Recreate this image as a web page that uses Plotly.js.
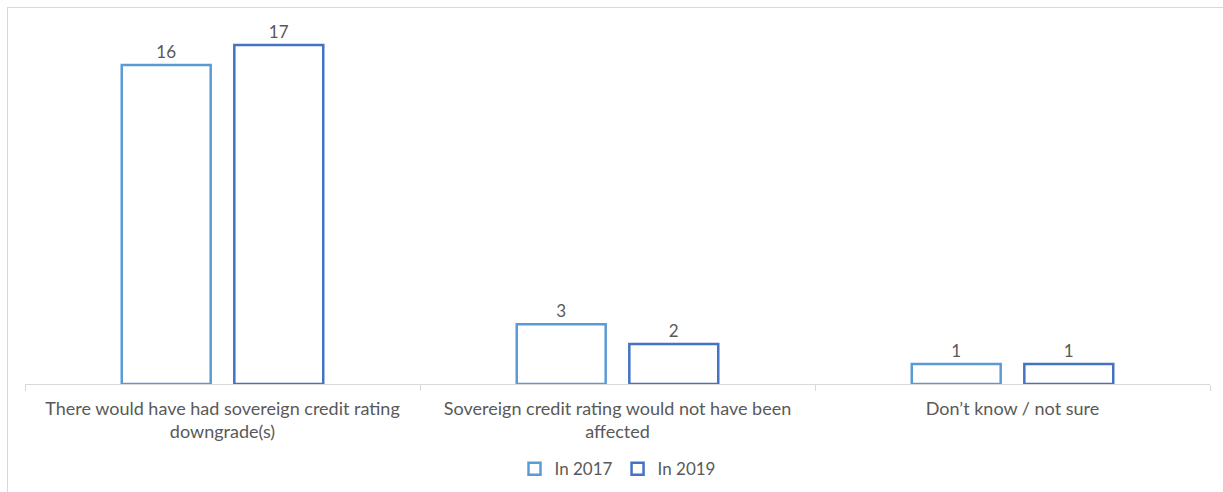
<!DOCTYPE html>
<html>
<head>
<meta charset="utf-8">
<script src="https://cdn.plot.ly/plotly-3.0.1.min.js"></script>
<style>
html,body{margin:0;padding:0;background:#fff;}
#frame{position:absolute;left:7px;top:7px;width:1216px;height:485px;border-left:1px solid #d9d9d9;border-top:1px solid #d9d9d9;box-sizing:border-box;}
#chart{position:absolute;left:0;top:0;width:1223px;height:492px;}
</style>
</head>
<body>
<div id="frame"></div>
<div id="chart"></div>
<script>
const categories = [
  "There would have had sovereign credit rating<br>downgrade(s)",
  "Sovereign credit rating would not have been<br>affected",
  "Don’t know / not sure"
];
const seriesNames = ["In 2017", "In 2019"];
const values2017 = [16, 3, 1];
const values2019 = [17, 2, 1];

const fontFam = "Lato, 'Open Sans', sans-serif";
const txtColor = "#595959";

function mk(name, vals, color) {
  return {
    type: "bar",
    name: name,
    x: categories,
    y: vals,
    text: vals.map(String),
    textposition: "outside",
    cliponaxis: false,
    textfont: {family: fontFam, size: 17, color: txtColor},
    marker: {color: "rgba(255,255,255,0)", line: {color: color, width: 2.5}},
    hoverinfo: "none"
  };
}

const data = [
  mk(seriesNames[0], values2017, "#5B9BD5"),
  mk(seriesNames[1], values2019, "#4472C4")
];

const layout = {
  width: 1223, height: 492,
  margin: {l: 25, r: 13, t: 25, b: 108, autoexpand: false},
  paper_bgcolor: "rgba(0,0,0,0)",
  plot_bgcolor: "rgba(0,0,0,0)",
  barmode: "group",
  bargap: 0.43,
  bargroupgap: 0.21,
  font: {family: fontFam, size: 17, color: txtColor},
  showlegend: true,
  legend: {orientation: "h", x: 0.5, xanchor: "center", y: -0.237, yanchor: "middle",
           font: {family: fontFam, size: 17, color: txtColor}, itemwidth: 30, tracegroupgap: 0},
  xaxis: {
    type: "category",
    automargin: false,
    showline: true, linecolor: "#d9d9d9", linewidth: 1,
    ticks: "outside", tickson: "boundaries", ticklen: 6, tickcolor: "#d9d9d9",
    ticklabelstandoff: 8,
    showgrid: false, zeroline: false,
    tickfont: {family: fontFam, size: 18, color: txtColor},
    fixedrange: true
  },
  yaxis: {
    range: [0, 18], visible: false, showgrid: false, zeroline: false, fixedrange: true, automargin: false
  }
};

Plotly.newPlot("chart", data, layout, {displayModeBar: false, staticPlot: true});
</script>
</body>
</html>
